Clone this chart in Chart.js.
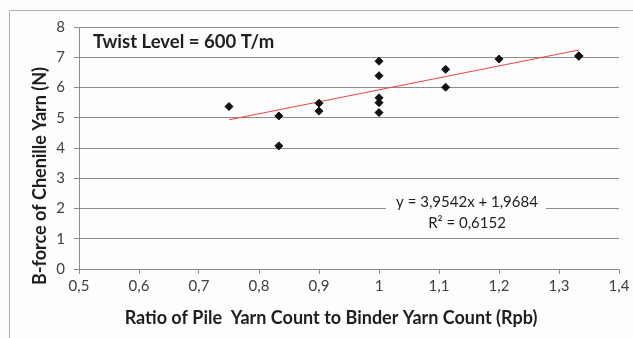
<!DOCTYPE html>
<html>
<head>
<meta charset="utf-8">
<script src="https://cdn.jsdelivr.net/npm/chart.js@4"></script>
<style>
  html, body { margin: 0; padding: 0; background: #ffffff; }
  #wrap { position: relative; width: 633px; height: 338px; }
</style>
</head>
<body>
<div id="wrap"><canvas id="graficoRpb" width="633" height="338"></canvas></div>
<script>
// dados
const ratioRpb = [0.75, 0.833, 0.833, 0.9, 0.9, 1, 1, 1, 1, 1, 1.111, 1.111, 1.2, 1.333, 1.333]
const bForce = [5.37, 5.06, 4.07, 5.48, 5.22, 6.87, 6.39, 5.66, 5.50, 5.17, 6.60, 6.01, 6.94, 7.05, 7.03]
const trendSlope = 3.9542
const trendIntercept = 1.9684
const trendRange = [0.75, 1.333]
const xTicks = [0.5, 0.6, 0.7, 0.8, 0.9, 1, 1.1, 1.2, 1.3, 1.4]
const yTicks = [0, 1, 2, 3, 4, 5, 6, 7, 8]
const tituloGrafico = 'Twist Level = 600 T/m'
const tituloX = 'Ratio of Pile  Yarn Count to Binder Yarn Count (Rpb)'
const tituloY = 'B-force of Chenille Yarn (N)'
const textoEquacao = 'y = 3,9542x + 1,9684'
const textoR2 = 'R² = 0,6152'

const fonte = 'Lato, "Open Sans", sans-serif'

let pontos = ratioRpb.map((x, i) => ({ x: x, y: bForce[i] }))
let tendencia = trendRange.map(x => ({ x: x, y: trendSlope * x + trendIntercept }))

function virgula(v) {
    return String(Math.round(v * 10) / 10).replace('.', ',')
}

const pluginTextos = {
    id: 'textos',
    beforeDraw(chart) {
        const ctx = chart.ctx
        ctx.save()
        ctx.fillStyle = '#fdfdfd'
        ctx.fillRect(0, 0, chart.width, chart.height)
        ctx.strokeStyle = '#b0b0b0'
        ctx.lineWidth = 1
        ctx.beginPath()
        ctx.moveTo(9.5, chart.height)
        ctx.lineTo(9.5, 10.5)
        ctx.lineTo(chart.width, 10.5)
        ctx.stroke()
        ctx.restore()
    },
    afterDatasetsDraw(chart) {
        const ctx = chart.ctx
        ctx.save()
        // caixa da equacao
        ctx.fillStyle = '#fdfdfd'
        ctx.fillRect(386, 192, 160, 40)
        ctx.fillStyle = '#1e1e1e'
        ctx.textAlign = 'center'
        ctx.textBaseline = 'middle'
        ctx.font = '15px ' + fonte
        ctx.fillText(textoEquacao, 467, 202)
        ctx.fillText(textoR2, 467, 223)

        ctx.font = 'bold 18px ' + fonte
        ctx.fillText(tituloX, 331, 318)

        ctx.textAlign = 'left'
        ctx.font = 'bold 18.5px ' + fonte
        ctx.fillText(tituloGrafico, 93, 42)

        ctx.font = 'bold 18px ' + fonte
        ctx.translate(40, 176)
        ctx.rotate(-Math.PI / 2)
        ctx.textAlign = 'center'
        ctx.fillText(tituloY, 0, 0)
        ctx.restore()
    }
}

let chartRpb = new Chart(
    document.getElementById('graficoRpb'), {
    type: 'scatter',
    data: {
        datasets: [{
            label: 'B-force',
            data: pontos,
            backgroundColor: '#111111',
            borderColor: '#111111',
            pointStyle: 'rectRot',
            pointRadius: 4,
            pointBorderWidth: 1,
            order: 1
        }, {
            label: 'Linear',
            type: 'line',
            data: tendencia,
            borderColor: 'rgb(240, 70, 70)',
            borderWidth: 1.2,
            pointRadius: 0,
            fill: false,
            order: 2
        }]
    },
    options: {
        responsive: false,
        animation: false,
        layout: { padding: { top: 27, right: 14, left: 0, bottom: 0 } },
        plugins: {
            legend: { display: false },
            tooltip: { enabled: false }
        },
        scales: {
            x: {
                type: 'linear',
                min: 0.5,
                max: 1.4,
                afterBuildTicks(scale) {
                    scale.ticks = xTicks.map(v => ({ value: v }))
                },
                afterFit(scale) { scale.height = 69 },
                grid: { drawOnChartArea: false, drawTicks: true, tickLength: 5, color: '#8c8c8c' },
                border: { color: '#8c8c8c' },
                ticks: {
                    color: '#404040',
                    font: { family: fonte, size: 15 },
                    padding: 3,
                    maxRotation: 0,
                    callback: v => virgula(v)
                }
            },
            y: {
                min: 0,
                max: 8,
                afterBuildTicks(scale) {
                    scale.ticks = yTicks.map(v => ({ value: v }))
                },
                afterFit(scale) { scale.width = 79 },
                grid: { color: '#8c8c8c', tickLength: 5 },
                border: { color: '#8c8c8c' },
                ticks: {
                    color: '#404040',
                    font: { family: fonte, size: 15 },
                    padding: 9,
                    callback: v => virgula(v)
                }
            }
        }
    },
    plugins: [pluginTextos]
}
)
</script>
</body>
</html>
